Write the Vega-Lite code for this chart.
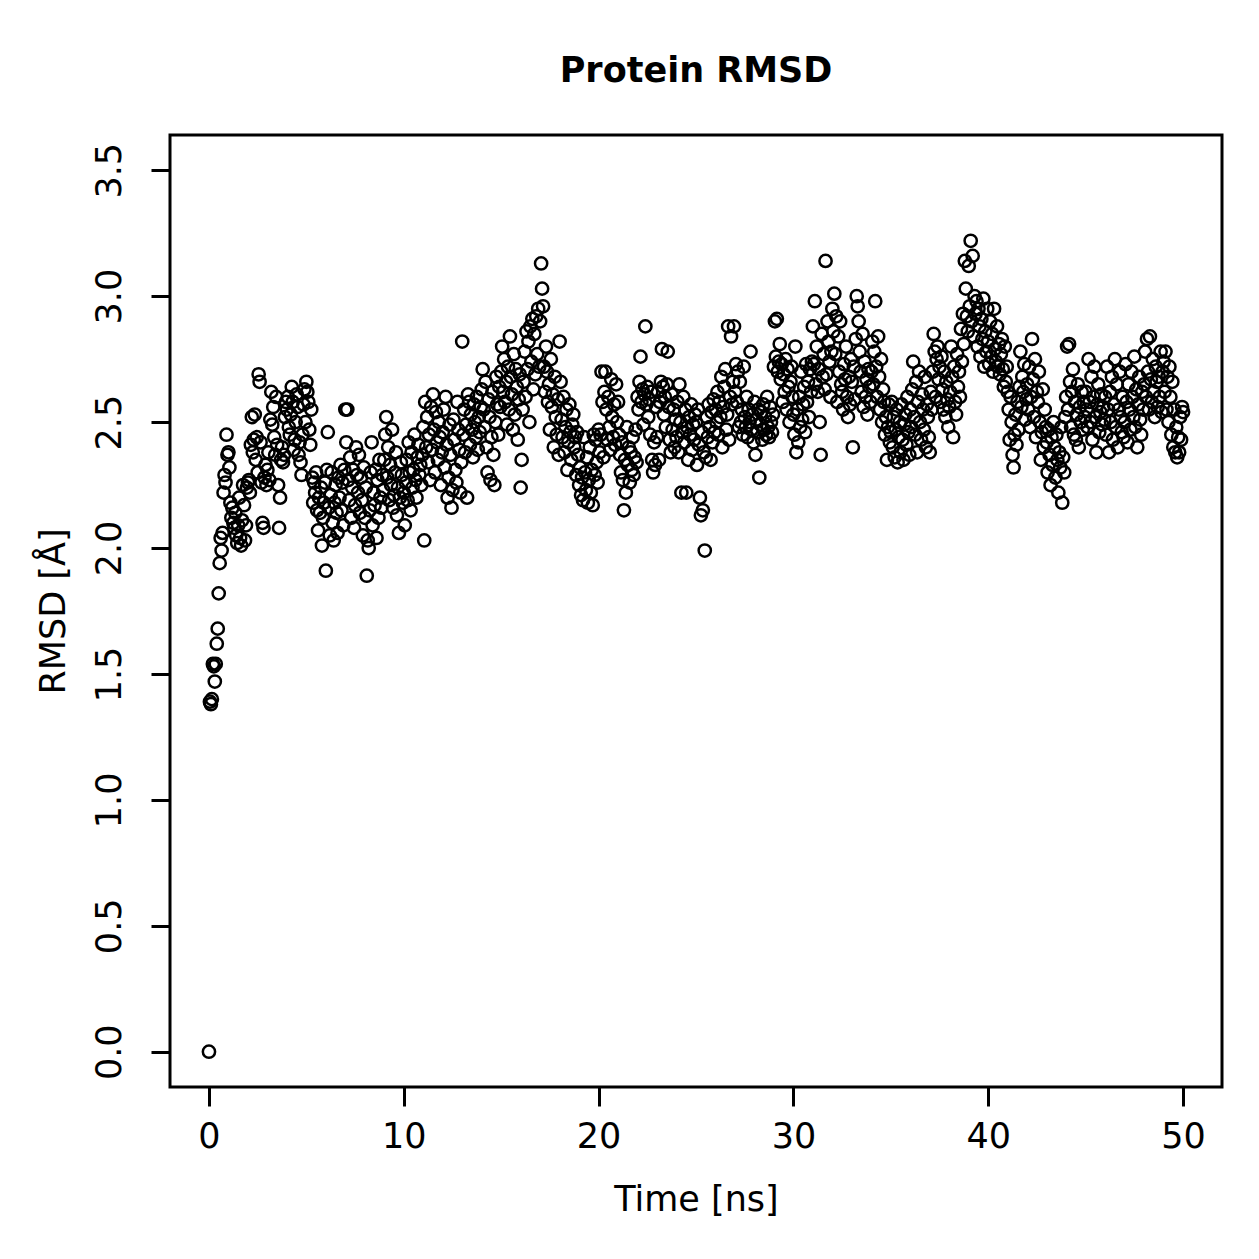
{
"$schema":"https://vega.github.io/schema/vega-lite/v6.json",
"autosize":{"type":"none"},
"padding":{"left":170,"top":135,"right":37,"bottom":172},
"width":1052,"height":952,
"background":"white",
"title":{"text":"Protein RMSD","font":"DejaVu Sans","fontSize":35,"fontWeight":"bold","color":"black","anchor":"middle","baseline":"alphabetic","offset":18},
"config":{"view":{"stroke":"black","strokeWidth":3},"axis":{"grid":false,"domain":false,"ticks":true,"tickColor":"black","tickWidth":3,"tickSize":19,"labelFont":"DejaVu Sans","labelFontSize":35,"labelColor":"black","titleFont":"DejaVu Sans","titleFontSize":35,"titleFontWeight":"normal","titleColor":"black","labelFlush":false,"labelOverlap":false}},
"data":{"values":[
{"t":0,"r":0},{"t":0.05,"r":1.39},{"t":0.1,"r":1.38},{"t":0.15,"r":1.4},{"t":0.2,"r":1.54},{"t":0.25,"r":1.53},{"t":0.3,"r":1.47},{"t":0.35,"r":1.54},{"t":0.4,"r":1.62},{"t":0.45,"r":1.68},{"t":0.5,"r":1.82},{"t":0.55,"r":1.94},{"t":0.6,"r":2.04},{"t":0.65,"r":1.99},{"t":0.7,"r":2.06},{"t":0.75,"r":2.22},{"t":0.8,"r":2.29},{"t":0.85,"r":2.26},{"t":0.9,"r":2.45},{"t":0.95,"r":2.37},
{"t":1,"r":2.38},{"t":1.05,"r":2.32},{"t":1.1,"r":2.18},{"t":1.15,"r":2.12},{"t":1.2,"r":2.16},{"t":1.25,"r":2.1},{"t":1.3,"r":2.08},{"t":1.35,"r":2.14},{"t":1.4,"r":2.05},{"t":1.45,"r":2.02},{"t":1.5,"r":2.09},{"t":1.55,"r":2.2},{"t":1.6,"r":2.04},{"t":1.65,"r":2.01},{"t":1.7,"r":2.11},{"t":1.75,"r":2.25},{"t":1.8,"r":2.17},{"t":1.85,"r":2.03},{"t":1.9,"r":2.09},{"t":1.95,"r":2.24},
{"t":2,"r":2.26},{"t":2.05,"r":2.27},{"t":2.1,"r":2.22},{"t":2.15,"r":2.41},{"t":2.2,"r":2.52},{"t":2.25,"r":2.38},{"t":2.3,"r":2.43},{"t":2.35,"r":2.53},{"t":2.4,"r":2.35},{"t":2.45,"r":2.44},{"t":2.5,"r":2.3},{"t":2.55,"r":2.69},{"t":2.6,"r":2.66},{"t":2.65,"r":2.42},{"t":2.7,"r":2.26},{"t":2.75,"r":2.1},{"t":2.8,"r":2.08},{"t":2.85,"r":2.28},{"t":2.9,"r":2.33},{"t":2.95,"r":2.25},
{"t":3,"r":2.31},{"t":3.05,"r":2.38},{"t":3.1,"r":2.27},{"t":3.15,"r":2.51},{"t":3.2,"r":2.62},{"t":3.25,"r":2.49},{"t":3.3,"r":2.56},{"t":3.35,"r":2.44},{"t":3.4,"r":2.37},{"t":3.45,"r":2.6},{"t":3.5,"r":2.41},{"t":3.55,"r":2.25},{"t":3.6,"r":2.08},{"t":3.65,"r":2.2},{"t":3.7,"r":2.35},{"t":3.75,"r":2.4},{"t":3.8,"r":2.34},{"t":3.85,"r":2.37},{"t":3.9,"r":2.52},{"t":3.95,"r":2.58},
{"t":4,"r":2.55},{"t":4.05,"r":2.6},{"t":4.1,"r":2.48},{"t":4.15,"r":2.45},{"t":4.2,"r":2.53},{"t":4.25,"r":2.64},{"t":4.3,"r":2.58},{"t":4.35,"r":2.39},{"t":4.4,"r":2.43},{"t":4.45,"r":2.5},{"t":4.5,"r":2.61},{"t":4.55,"r":2.56},{"t":4.6,"r":2.37},{"t":4.65,"r":2.42},{"t":4.7,"r":2.34},{"t":4.75,"r":2.29},{"t":4.8,"r":2.45},{"t":4.85,"r":2.57},{"t":4.9,"r":2.63},{"t":4.95,"r":2.5},
{"t":5,"r":2.66},{"t":5.05,"r":2.62},{"t":5.1,"r":2.58},{"t":5.15,"r":2.47},{"t":5.2,"r":2.41},{"t":5.25,"r":2.55},{"t":5.3,"r":2.28},{"t":5.35,"r":2.18},{"t":5.4,"r":2.26},{"t":5.45,"r":2.22},{"t":5.5,"r":2.3},{"t":5.55,"r":2.15},{"t":5.6,"r":2.07},{"t":5.65,"r":2.2},{"t":5.7,"r":2.14},{"t":5.75,"r":2.24},{"t":5.8,"r":2.01},{"t":5.85,"r":2.12},{"t":5.9,"r":2.18},{"t":5.95,"r":2.26},
{"t":6,"r":1.91},{"t":6.05,"r":2.31},{"t":6.1,"r":2.46},{"t":6.15,"r":2.16},{"t":6.2,"r":2.05},{"t":6.25,"r":2.21},{"t":6.3,"r":2.3},{"t":6.35,"r":2.1},{"t":6.4,"r":2.03},{"t":6.45,"r":2.18},{"t":6.5,"r":2.25},{"t":6.55,"r":2.14},{"t":6.6,"r":2.06},{"t":6.65,"r":2.28},{"t":6.7,"r":2.2},{"t":6.75,"r":2.33},{"t":6.8,"r":2.15},{"t":6.85,"r":2.26},{"t":6.9,"r":2.09},{"t":6.95,"r":2.31},
{"t":7,"r":2.55},{"t":7.05,"r":2.42},{"t":7.1,"r":2.55},{"t":7.15,"r":2.27},{"t":7.2,"r":2.19},{"t":7.25,"r":2.36},{"t":7.3,"r":2.12},{"t":7.35,"r":2.24},{"t":7.4,"r":2.31},{"t":7.45,"r":2.08},{"t":7.5,"r":2.17},{"t":7.55,"r":2.4},{"t":7.6,"r":2.29},{"t":7.65,"r":2.22},{"t":7.7,"r":2.37},{"t":7.75,"r":2.14},{"t":7.8,"r":2.28},{"t":7.85,"r":2.19},{"t":7.9,"r":2.05},{"t":7.95,"r":2.32},
{"t":8,"r":2.12},{"t":8.05,"r":2.24},{"t":8.1,"r":1.89},{"t":8.15,"r":2.03},{"t":8.2,"r":2.0},{"t":8.25,"r":2.15},{"t":8.3,"r":2.3},{"t":8.35,"r":2.42},{"t":8.4,"r":2.09},{"t":8.45,"r":2.22},{"t":8.5,"r":2.17},{"t":8.55,"r":2.31},{"t":8.6,"r":2.04},{"t":8.65,"r":2.27},{"t":8.7,"r":2.12},{"t":8.75,"r":2.35},{"t":8.8,"r":2.2},{"t":8.85,"r":2.16},{"t":8.9,"r":2.29},{"t":8.95,"r":2.23},
{"t":9,"r":2.35},{"t":9.05,"r":2.45},{"t":9.1,"r":2.52},{"t":9.15,"r":2.28},{"t":9.2,"r":2.4},{"t":9.25,"r":2.19},{"t":9.3,"r":2.33},{"t":9.35,"r":2.25},{"t":9.4,"r":2.47},{"t":9.45,"r":2.16},{"t":9.5,"r":2.21},{"t":9.55,"r":2.3},{"t":9.6,"r":2.38},{"t":9.65,"r":2.13},{"t":9.7,"r":2.24},{"t":9.75,"r":2.06},{"t":9.8,"r":2.2},{"t":9.85,"r":2.34},{"t":9.9,"r":2.29},{"t":9.95,"r":2.18},
{"t":10,"r":2.22},{"t":10.05,"r":2.09},{"t":10.1,"r":2.26},{"t":10.15,"r":2.35},{"t":10.2,"r":2.19},{"t":10.25,"r":2.42},{"t":10.3,"r":2.3},{"t":10.35,"r":2.15},{"t":10.4,"r":2.38},{"t":10.45,"r":2.24},{"t":10.5,"r":2.31},{"t":10.55,"r":2.45},{"t":10.6,"r":2.27},{"t":10.65,"r":2.2},{"t":10.7,"r":2.36},{"t":10.75,"r":2.41},{"t":10.8,"r":2.29},{"t":10.85,"r":2.33},{"t":10.9,"r":2.25},{"t":10.95,"r":2.37},
{"t":11,"r":2.48},{"t":11.05,"r":2.03},{"t":11.1,"r":2.58},{"t":11.15,"r":2.4},{"t":11.2,"r":2.52},{"t":11.25,"r":2.34},{"t":11.3,"r":2.45},{"t":11.35,"r":2.27},{"t":11.4,"r":2.56},{"t":11.45,"r":2.39},{"t":11.5,"r":2.61},{"t":11.55,"r":2.47},{"t":11.6,"r":2.3},{"t":11.65,"r":2.54},{"t":11.7,"r":2.42},{"t":11.75,"r":2.35},{"t":11.8,"r":2.5},{"t":11.85,"r":2.44},{"t":11.9,"r":2.25},{"t":11.95,"r":2.38},
{"t":12,"r":2.46},{"t":12.05,"r":2.55},{"t":12.1,"r":2.32},{"t":12.15,"r":2.6},{"t":12.2,"r":2.41},{"t":12.25,"r":2.2},{"t":12.3,"r":2.28},{"t":12.35,"r":2.49},{"t":12.4,"r":2.37},{"t":12.45,"r":2.16},{"t":12.5,"r":2.23},{"t":12.55,"r":2.51},{"t":12.6,"r":2.43},{"t":12.65,"r":2.31},{"t":12.7,"r":2.26},{"t":12.75,"r":2.58},{"t":12.8,"r":2.47},{"t":12.85,"r":2.39},{"t":12.9,"r":2.22},{"t":12.95,"r":2.34},
{"t":13,"r":2.82},{"t":13.05,"r":2.45},{"t":13.1,"r":2.55},{"t":13.15,"r":2.38},{"t":13.2,"r":2.49},{"t":13.25,"r":2.2},{"t":13.3,"r":2.61},{"t":13.35,"r":2.58},{"t":13.4,"r":2.41},{"t":13.45,"r":2.53},{"t":13.5,"r":2.47},{"t":13.55,"r":2.36},{"t":13.6,"r":2.57},{"t":13.65,"r":2.5},{"t":13.7,"r":2.44},{"t":13.75,"r":2.6},{"t":13.8,"r":2.39},{"t":13.85,"r":2.52},{"t":13.9,"r":2.46},{"t":13.95,"r":2.56},
{"t":14,"r":2.63},{"t":14.05,"r":2.71},{"t":14.1,"r":2.55},{"t":14.15,"r":2.48},{"t":14.2,"r":2.66},{"t":14.25,"r":2.4},{"t":14.3,"r":2.3},{"t":14.35,"r":2.59},{"t":14.4,"r":2.52},{"t":14.45,"r":2.27},{"t":14.5,"r":2.44},{"t":14.55,"r":2.62},{"t":14.6,"r":2.37},{"t":14.65,"r":2.25},{"t":14.7,"r":2.5},{"t":14.75,"r":2.68},{"t":14.8,"r":2.57},{"t":14.85,"r":2.45},{"t":14.9,"r":2.64},{"t":14.95,"r":2.56},
{"t":15,"r":2.7},{"t":15.05,"r":2.8},{"t":15.1,"r":2.62},{"t":15.15,"r":2.75},{"t":15.2,"r":2.58},{"t":15.25,"r":2.66},{"t":15.3,"r":2.49},{"t":15.35,"r":2.72},{"t":15.4,"r":2.55},{"t":15.45,"r":2.84},{"t":15.5,"r":2.68},{"t":15.55,"r":2.61},{"t":15.6,"r":2.47},{"t":15.65,"r":2.77},{"t":15.7,"r":2.53},{"t":15.75,"r":2.71},{"t":15.8,"r":2.64},{"t":15.85,"r":2.43},{"t":15.9,"r":2.59},{"t":15.95,"r":2.69},
{"t":16,"r":2.24},{"t":16.05,"r":2.35},{"t":16.1,"r":2.55},{"t":16.15,"r":2.66},{"t":16.2,"r":2.78},{"t":16.25,"r":2.6},{"t":16.3,"r":2.86},{"t":16.35,"r":2.71},{"t":16.4,"r":2.82},{"t":16.45,"r":2.5},{"t":16.5,"r":2.88},{"t":16.55,"r":2.74},{"t":16.6,"r":2.91},{"t":16.65,"r":2.63},{"t":16.7,"r":2.85},{"t":16.75,"r":2.69},{"t":16.8,"r":2.92},{"t":16.85,"r":2.77},{"t":16.9,"r":2.95},{"t":16.95,"r":2.72},
{"t":17,"r":2.9},{"t":17.05,"r":3.13},{"t":17.1,"r":3.03},{"t":17.15,"r":2.96},{"t":17.2,"r":2.72},{"t":17.25,"r":2.62},{"t":17.3,"r":2.8},{"t":17.35,"r":2.7},{"t":17.4,"r":2.58},{"t":17.45,"r":2.65},{"t":17.5,"r":2.47},{"t":17.55,"r":2.75},{"t":17.6,"r":2.56},{"t":17.65,"r":2.61},{"t":17.7,"r":2.4},{"t":17.75,"r":2.68},{"t":17.8,"r":2.52},{"t":17.85,"r":2.45},{"t":17.9,"r":2.59},{"t":17.95,"r":2.37},
{"t":18,"r":2.82},{"t":18.05,"r":2.66},{"t":18.1,"r":2.51},{"t":18.15,"r":2.44},{"t":18.2,"r":2.6},{"t":18.25,"r":2.38},{"t":18.3,"r":2.48},{"t":18.35,"r":2.55},{"t":18.4,"r":2.31},{"t":18.45,"r":2.42},{"t":18.5,"r":2.57},{"t":18.55,"r":2.46},{"t":18.6,"r":2.35},{"t":18.65,"r":2.49},{"t":18.7,"r":2.53},{"t":18.75,"r":2.4},{"t":18.8,"r":2.44},{"t":18.85,"r":2.29},{"t":18.9,"r":2.46},{"t":18.95,"r":2.37},
{"t":19,"r":2.25},{"t":19.05,"r":2.32},{"t":19.1,"r":2.21},{"t":19.15,"r":2.28},{"t":19.2,"r":2.19},{"t":19.25,"r":2.44},{"t":19.3,"r":2.3},{"t":19.35,"r":2.23},{"t":19.4,"r":2.36},{"t":19.45,"r":2.18},{"t":19.5,"r":2.27},{"t":19.55,"r":2.4},{"t":19.6,"r":2.22},{"t":19.65,"r":2.31},{"t":19.7,"r":2.17},{"t":19.75,"r":2.45},{"t":19.8,"r":2.29},{"t":19.85,"r":2.43},{"t":19.9,"r":2.34},{"t":19.95,"r":2.26},
{"t":20,"r":2.47},{"t":20.05,"r":2.38},{"t":20.1,"r":2.45},{"t":20.15,"r":2.7},{"t":20.2,"r":2.58},{"t":20.25,"r":2.36},{"t":20.3,"r":2.62},{"t":20.35,"r":2.7},{"t":20.4,"r":2.55},{"t":20.45,"r":2.43},{"t":20.5,"r":2.6},{"t":20.55,"r":2.48},{"t":20.6,"r":2.39},{"t":20.65,"r":2.67},{"t":20.7,"r":2.52},{"t":20.75,"r":2.44},{"t":20.8,"r":2.57},{"t":20.85,"r":2.41},{"t":20.9,"r":2.65},{"t":20.95,"r":2.5},
{"t":21,"r":2.58},{"t":21.05,"r":2.45},{"t":21.1,"r":2.37},{"t":21.15,"r":2.3},{"t":21.2,"r":2.42},{"t":21.25,"r":2.27},{"t":21.3,"r":2.15},{"t":21.35,"r":2.35},{"t":21.4,"r":2.22},{"t":21.45,"r":2.48},{"t":21.5,"r":2.33},{"t":21.55,"r":2.4},{"t":21.6,"r":2.26},{"t":21.65,"r":2.38},{"t":21.7,"r":2.31},{"t":21.75,"r":2.44},{"t":21.8,"r":2.29},{"t":21.85,"r":2.36},{"t":21.9,"r":2.47},{"t":21.95,"r":2.34},
{"t":22,"r":2.6},{"t":22.05,"r":2.55},{"t":22.1,"r":2.66},{"t":22.15,"r":2.76},{"t":22.2,"r":2.58},{"t":22.25,"r":2.63},{"t":22.3,"r":2.49},{"t":22.35,"r":2.61},{"t":22.4,"r":2.88},{"t":22.45,"r":2.57},{"t":22.5,"r":2.64},{"t":22.55,"r":2.52},{"t":22.6,"r":2.59},{"t":22.65,"r":2.45},{"t":22.7,"r":2.62},{"t":22.75,"r":2.35},{"t":22.8,"r":2.3},{"t":22.85,"r":2.42},{"t":22.9,"r":2.33},{"t":22.95,"r":2.56},
{"t":23,"r":2.44},{"t":23.05,"r":2.62},{"t":23.1,"r":2.35},{"t":23.15,"r":2.58},{"t":23.2,"r":2.66},{"t":23.25,"r":2.79},{"t":23.3,"r":2.64},{"t":23.35,"r":2.53},{"t":23.4,"r":2.6},{"t":23.45,"r":2.48},{"t":23.5,"r":2.65},{"t":23.55,"r":2.78},{"t":23.6,"r":2.56},{"t":23.65,"r":2.43},{"t":23.7,"r":2.38},{"t":23.75,"r":2.61},{"t":23.8,"r":2.47},{"t":23.85,"r":2.55},{"t":23.9,"r":2.4},{"t":23.95,"r":2.51},
{"t":24,"r":2.44},{"t":24.05,"r":2.58},{"t":24.1,"r":2.38},{"t":24.15,"r":2.65},{"t":24.2,"r":2.5},{"t":24.25,"r":2.22},{"t":24.3,"r":2.46},{"t":24.35,"r":2.6},{"t":24.4,"r":2.42},{"t":24.45,"r":2.55},{"t":24.5,"r":2.22},{"t":24.55,"r":2.48},{"t":24.6,"r":2.35},{"t":24.65,"r":2.52},{"t":24.7,"r":2.45},{"t":24.75,"r":2.57},{"t":24.8,"r":2.39},{"t":24.85,"r":2.49},{"t":24.9,"r":2.43},{"t":24.95,"r":2.53},
{"t":25,"r":2.5},{"t":25.05,"r":2.33},{"t":25.1,"r":2.55},{"t":25.15,"r":2.41},{"t":25.2,"r":2.2},{"t":25.25,"r":2.13},{"t":25.3,"r":2.46},{"t":25.35,"r":2.15},{"t":25.4,"r":2.38},{"t":25.45,"r":1.99},{"t":25.5,"r":2.36},{"t":25.55,"r":2.52},{"t":25.6,"r":2.44},{"t":25.65,"r":2.57},{"t":25.7,"r":2.48},{"t":25.75,"r":2.35},{"t":25.8,"r":2.54},{"t":25.85,"r":2.42},{"t":25.9,"r":2.59},{"t":25.95,"r":2.46},
{"t":26,"r":2.55},{"t":26.05,"r":2.5},{"t":26.1,"r":2.62},{"t":26.15,"r":2.45},{"t":26.2,"r":2.58},{"t":26.25,"r":2.52},{"t":26.3,"r":2.68},{"t":26.35,"r":2.4},{"t":26.4,"r":2.56},{"t":26.45,"r":2.64},{"t":26.5,"r":2.71},{"t":26.55,"r":2.47},{"t":26.6,"r":2.53},{"t":26.65,"r":2.88},{"t":26.7,"r":2.43},{"t":26.75,"r":2.6},{"t":26.8,"r":2.84},{"t":26.85,"r":2.57},{"t":26.9,"r":2.66},{"t":26.95,"r":2.88},
{"t":27,"r":2.62},{"t":27.05,"r":2.73},{"t":27.1,"r":2.58},{"t":27.15,"r":2.7},{"t":27.2,"r":2.48},{"t":27.25,"r":2.66},{"t":27.3,"r":2.5},{"t":27.35,"r":2.55},{"t":27.4,"r":2.45},{"t":27.45,"r":2.72},{"t":27.5,"r":2.52},{"t":27.55,"r":2.48},{"t":27.6,"r":2.6},{"t":27.65,"r":2.44},{"t":27.7,"r":2.55},{"t":27.75,"r":2.5},{"t":27.8,"r":2.78},{"t":27.85,"r":2.47},{"t":27.9,"r":2.53},{"t":27.95,"r":2.42},
{"t":28,"r":2.58},{"t":28.05,"r":2.37},{"t":28.1,"r":2.51},{"t":28.15,"r":2.46},{"t":28.2,"r":2.55},{"t":28.25,"r":2.28},{"t":28.3,"r":2.49},{"t":28.35,"r":2.54},{"t":28.4,"r":2.43},{"t":28.45,"r":2.57},{"t":28.5,"r":2.47},{"t":28.55,"r":2.52},{"t":28.6,"r":2.45},{"t":28.65,"r":2.6},{"t":28.7,"r":2.48},{"t":28.75,"r":2.44},{"t":28.8,"r":2.56},{"t":28.85,"r":2.5},{"t":28.9,"r":2.46},{"t":28.95,"r":2.53},
{"t":29,"r":2.72},{"t":29.05,"r":2.9},{"t":29.1,"r":2.76},{"t":29.15,"r":2.91},{"t":29.2,"r":2.7},{"t":29.25,"r":2.74},{"t":29.3,"r":2.81},{"t":29.35,"r":2.67},{"t":29.4,"r":2.73},{"t":29.45,"r":2.58},{"t":29.5,"r":2.69},{"t":29.55,"r":2.62},{"t":29.6,"r":2.75},{"t":29.65,"r":2.55},{"t":29.7,"r":2.71},{"t":29.75,"r":2.64},{"t":29.8,"r":2.5},{"t":29.85,"r":2.66},{"t":29.9,"r":2.72},{"t":29.95,"r":2.6},
{"t":30,"r":2.53},{"t":30.05,"r":2.45},{"t":30.1,"r":2.8},{"t":30.15,"r":2.38},{"t":30.2,"r":2.55},{"t":30.25,"r":2.42},{"t":30.3,"r":2.6},{"t":30.35,"r":2.48},{"t":30.4,"r":2.7},{"t":30.45,"r":2.51},{"t":30.5,"r":2.57},{"t":30.55,"r":2.64},{"t":30.6,"r":2.46},{"t":30.65,"r":2.73},{"t":30.7,"r":2.58},{"t":30.75,"r":2.66},{"t":30.8,"r":2.52},{"t":30.85,"r":2.71},{"t":30.9,"r":2.62},{"t":30.95,"r":2.74},
{"t":31,"r":2.88},{"t":31.05,"r":2.73},{"t":31.1,"r":2.98},{"t":31.15,"r":2.65},{"t":31.2,"r":2.8},{"t":31.25,"r":2.62},{"t":31.3,"r":2.71},{"t":31.35,"r":2.5},{"t":31.4,"r":2.37},{"t":31.45,"r":2.85},{"t":31.5,"r":2.68},{"t":31.55,"r":2.77},{"t":31.6,"r":2.63},{"t":31.65,"r":3.14},{"t":31.7,"r":2.69},{"t":31.75,"r":2.9},{"t":31.8,"r":2.82},{"t":31.85,"r":2.74},{"t":31.9,"r":2.6},{"t":31.95,"r":2.78},
{"t":32,"r":2.95},{"t":32.05,"r":2.86},{"t":32.1,"r":3.01},{"t":32.15,"r":2.77},{"t":32.2,"r":2.92},{"t":32.25,"r":2.58},{"t":32.3,"r":2.84},{"t":32.35,"r":2.7},{"t":32.4,"r":2.9},{"t":32.45,"r":2.65},{"t":32.5,"r":2.62},{"t":32.55,"r":2.55},{"t":32.6,"r":2.73},{"t":32.65,"r":2.67},{"t":32.7,"r":2.8},{"t":32.75,"r":2.6},{"t":32.8,"r":2.52},{"t":32.85,"r":2.68},{"t":32.9,"r":2.57},{"t":32.95,"r":2.75},
{"t":33,"r":2.66},{"t":33.05,"r":2.4},{"t":33.1,"r":2.72},{"t":33.15,"r":2.59},{"t":33.2,"r":2.83},{"t":33.25,"r":3.0},{"t":33.3,"r":2.96},{"t":33.35,"r":2.9},{"t":33.4,"r":2.78},{"t":33.45,"r":2.7},{"t":33.5,"r":2.62},{"t":33.55,"r":2.85},{"t":33.6,"r":2.56},{"t":33.65,"r":2.74},{"t":33.7,"r":2.6},{"t":33.75,"r":2.67},{"t":33.8,"r":2.53},{"t":33.85,"r":2.71},{"t":33.9,"r":2.64},{"t":33.95,"r":2.58},
{"t":34,"r":2.7},{"t":34.05,"r":2.82},{"t":34.1,"r":2.65},{"t":34.15,"r":2.78},{"t":34.2,"r":2.98},{"t":34.25,"r":2.72},{"t":34.3,"r":2.6},{"t":34.35,"r":2.84},{"t":34.4,"r":2.68},{"t":34.45,"r":2.55},{"t":34.5,"r":2.75},{"t":34.55,"r":2.5},{"t":34.6,"r":2.63},{"t":34.65,"r":2.58},{"t":34.7,"r":2.45},{"t":34.75,"r":2.52},{"t":34.8,"r":2.35},{"t":34.85,"r":2.48},{"t":34.9,"r":2.57},{"t":34.95,"r":2.42},
{"t":35,"r":2.46},{"t":35.05,"r":2.58},{"t":35.1,"r":2.4},{"t":35.15,"r":2.52},{"t":35.2,"r":2.36},{"t":35.25,"r":2.47},{"t":35.3,"r":2.55},{"t":35.35,"r":2.34},{"t":35.4,"r":2.44},{"t":35.45,"r":2.5},{"t":35.5,"r":2.38},{"t":35.55,"r":2.57},{"t":35.6,"r":2.43},{"t":35.65,"r":2.35},{"t":35.7,"r":2.49},{"t":35.75,"r":2.53},{"t":35.8,"r":2.41},{"t":35.85,"r":2.6},{"t":35.9,"r":2.46},{"t":35.95,"r":2.37},
{"t":36,"r":2.55},{"t":36.05,"r":2.48},{"t":36.1,"r":2.63},{"t":36.15,"r":2.74},{"t":36.2,"r":2.52},{"t":36.25,"r":2.45},{"t":36.3,"r":2.66},{"t":36.35,"r":2.38},{"t":36.4,"r":2.58},{"t":36.45,"r":2.7},{"t":36.5,"r":2.5},{"t":36.55,"r":2.43},{"t":36.6,"r":2.61},{"t":36.65,"r":2.55},{"t":36.7,"r":2.47},{"t":36.75,"r":2.68},{"t":36.8,"r":2.4},{"t":36.85,"r":2.57},{"t":36.9,"r":2.52},{"t":36.95,"r":2.44},
{"t":37,"r":2.38},{"t":37.05,"r":2.62},{"t":37.1,"r":2.55},{"t":37.15,"r":2.7},{"t":37.2,"r":2.85},{"t":37.25,"r":2.78},{"t":37.3,"r":2.6},{"t":37.35,"r":2.75},{"t":37.4,"r":2.8},{"t":37.45,"r":2.67},{"t":37.5,"r":2.72},{"t":37.55,"r":2.58},{"t":37.6,"r":2.76},{"t":37.65,"r":2.63},{"t":37.7,"r":2.55},{"t":37.75,"r":2.7},{"t":37.8,"r":2.52},{"t":37.85,"r":2.66},{"t":37.9,"r":2.59},{"t":37.95,"r":2.48},
{"t":38,"r":2.56},{"t":38.05,"r":2.62},{"t":38.1,"r":2.8},{"t":38.15,"r":2.68},{"t":38.2,"r":2.44},{"t":38.25,"r":2.72},{"t":38.3,"r":2.58},{"t":38.35,"r":2.53},{"t":38.4,"r":2.77},{"t":38.45,"r":2.64},{"t":38.5,"r":2.7},{"t":38.55,"r":2.6},{"t":38.6,"r":2.87},{"t":38.65,"r":2.74},{"t":38.7,"r":2.93},{"t":38.75,"r":2.81},{"t":38.8,"r":3.14},{"t":38.85,"r":3.03},{"t":38.9,"r":2.92},{"t":38.95,"r":2.86},
{"t":39,"r":3.12},{"t":39.05,"r":2.96},{"t":39.1,"r":3.22},{"t":39.15,"r":2.9},{"t":39.2,"r":3.16},{"t":39.25,"r":2.84},{"t":39.3,"r":3.0},{"t":39.35,"r":2.93},{"t":39.4,"r":2.98},{"t":39.45,"r":2.8},{"t":39.5,"r":2.95},{"t":39.55,"r":2.88},{"t":39.6,"r":2.76},{"t":39.65,"r":2.91},{"t":39.7,"r":2.83},{"t":39.75,"r":2.99},{"t":39.8,"r":2.72},{"t":39.85,"r":2.86},{"t":39.9,"r":2.78},{"t":39.95,"r":2.95},
{"t":40,"r":2.82},{"t":40.05,"r":2.73},{"t":40.1,"r":2.9},{"t":40.15,"r":2.76},{"t":40.2,"r":2.85},{"t":40.25,"r":2.7},{"t":40.3,"r":2.95},{"t":40.35,"r":2.79},{"t":40.4,"r":2.74},{"t":40.45,"r":2.88},{"t":40.5,"r":2.72},{"t":40.55,"r":2.81},{"t":40.6,"r":2.69},{"t":40.65,"r":2.77},{"t":40.7,"r":2.83},{"t":40.75,"r":2.71},{"t":40.8,"r":2.64},{"t":40.85,"r":2.8},{"t":40.9,"r":2.66},{"t":40.95,"r":2.72},
{"t":41,"r":2.62},{"t":41.05,"r":2.55},{"t":41.1,"r":2.43},{"t":41.15,"r":2.6},{"t":41.2,"r":2.5},{"t":41.25,"r":2.37},{"t":41.3,"r":2.32},{"t":41.35,"r":2.45},{"t":41.4,"r":2.53},{"t":41.45,"r":2.41},{"t":41.5,"r":2.58},{"t":41.55,"r":2.47},{"t":41.6,"r":2.64},{"t":41.65,"r":2.78},{"t":41.7,"r":2.56},{"t":41.75,"r":2.68},{"t":41.8,"r":2.62},{"t":41.85,"r":2.73},{"t":41.9,"r":2.51},{"t":41.95,"r":2.59},
{"t":42,"r":2.65},{"t":42.05,"r":2.55},{"t":42.1,"r":2.72},{"t":42.15,"r":2.48},{"t":42.2,"r":2.6},{"t":42.25,"r":2.83},{"t":42.3,"r":2.67},{"t":42.35,"r":2.52},{"t":42.4,"r":2.75},{"t":42.45,"r":2.44},{"t":42.5,"r":2.62},{"t":42.55,"r":2.58},{"t":42.6,"r":2.7},{"t":42.65,"r":2.5},{"t":42.7,"r":2.35},{"t":42.75,"r":2.46},{"t":42.8,"r":2.63},{"t":42.85,"r":2.4},{"t":42.9,"r":2.55},{"t":42.95,"r":2.48},
{"t":43,"r":2.42},{"t":43.05,"r":2.3},{"t":43.1,"r":2.47},{"t":43.15,"r":2.37},{"t":43.2,"r":2.25},{"t":43.25,"r":2.44},{"t":43.3,"r":2.33},{"t":43.35,"r":2.5},{"t":43.4,"r":2.4},{"t":43.45,"r":2.28},{"t":43.5,"r":2.45},{"t":43.55,"r":2.35},{"t":43.6,"r":2.22},{"t":43.65,"r":2.38},{"t":43.7,"r":2.32},{"t":43.75,"r":2.48},{"t":43.8,"r":2.18},{"t":43.85,"r":2.36},{"t":43.9,"r":2.3},{"t":43.95,"r":2.52},
{"t":44,"r":2.6},{"t":44.05,"r":2.8},{"t":44.1,"r":2.55},{"t":44.15,"r":2.81},{"t":44.2,"r":2.66},{"t":44.25,"r":2.48},{"t":44.3,"r":2.62},{"t":44.35,"r":2.71},{"t":44.4,"r":2.45},{"t":44.45,"r":2.58},{"t":44.5,"r":2.43},{"t":44.55,"r":2.53},{"t":44.6,"r":2.65},{"t":44.65,"r":2.4},{"t":44.7,"r":2.56},{"t":44.75,"r":2.5},{"t":44.8,"r":2.62},{"t":44.85,"r":2.47},{"t":44.9,"r":2.58},{"t":44.95,"r":2.52},
{"t":45,"r":2.62},{"t":45.05,"r":2.55},{"t":45.1,"r":2.48},{"t":45.15,"r":2.75},{"t":45.2,"r":2.58},{"t":45.25,"r":2.5},{"t":45.3,"r":2.68},{"t":45.35,"r":2.43},{"t":45.4,"r":2.6},{"t":45.45,"r":2.72},{"t":45.5,"r":2.52},{"t":45.55,"r":2.38},{"t":45.6,"r":2.57},{"t":45.65,"r":2.65},{"t":45.7,"r":2.46},{"t":45.75,"r":2.54},{"t":45.8,"r":2.61},{"t":45.85,"r":2.49},{"t":45.9,"r":2.56},{"t":45.95,"r":2.51},
{"t":46,"r":2.6},{"t":46.05,"r":2.45},{"t":46.1,"r":2.72},{"t":46.15,"r":2.55},{"t":46.2,"r":2.38},{"t":46.25,"r":2.62},{"t":46.3,"r":2.5},{"t":46.35,"r":2.68},{"t":46.4,"r":2.43},{"t":46.45,"r":2.57},{"t":46.5,"r":2.75},{"t":46.55,"r":2.48},{"t":46.6,"r":2.65},{"t":46.65,"r":2.4},{"t":46.7,"r":2.55},{"t":46.75,"r":2.7},{"t":46.8,"r":2.52},{"t":46.85,"r":2.46},{"t":46.9,"r":2.6},{"t":46.95,"r":2.44},
{"t":47,"r":2.5},{"t":47.05,"r":2.73},{"t":47.1,"r":2.58},{"t":47.15,"r":2.42},{"t":47.2,"r":2.65},{"t":47.25,"r":2.55},{"t":47.3,"r":2.47},{"t":47.35,"r":2.7},{"t":47.4,"r":2.6},{"t":47.45,"r":2.52},{"t":47.5,"r":2.76},{"t":47.55,"r":2.48},{"t":47.6,"r":2.63},{"t":47.65,"r":2.4},{"t":47.7,"r":2.57},{"t":47.75,"r":2.68},{"t":47.8,"r":2.51},{"t":47.85,"r":2.45},{"t":47.9,"r":2.62},{"t":47.95,"r":2.55},
{"t":48,"r":2.65},{"t":48.05,"r":2.78},{"t":48.1,"r":2.6},{"t":48.15,"r":2.83},{"t":48.2,"r":2.7},{"t":48.25,"r":2.55},{"t":48.3,"r":2.84},{"t":48.35,"r":2.67},{"t":48.4,"r":2.58},{"t":48.45,"r":2.75},{"t":48.5,"r":2.62},{"t":48.55,"r":2.52},{"t":48.6,"r":2.72},{"t":48.65,"r":2.66},{"t":48.7,"r":2.56},{"t":48.75,"r":2.68},{"t":48.8,"r":2.6},{"t":48.85,"r":2.78},{"t":48.9,"r":2.54},{"t":48.95,"r":2.7},
{"t":49,"r":2.74},{"t":49.05,"r":2.62},{"t":49.1,"r":2.78},{"t":49.15,"r":2.55},{"t":49.2,"r":2.68},{"t":49.25,"r":2.5},{"t":49.3,"r":2.72},{"t":49.35,"r":2.6},{"t":49.4,"r":2.45},{"t":49.45,"r":2.66},{"t":49.5,"r":2.4},{"t":49.55,"r":2.55},{"t":49.6,"r":2.38},{"t":49.65,"r":2.48},{"t":49.7,"r":2.36},{"t":49.75,"r":2.44},{"t":49.8,"r":2.38},{"t":49.85,"r":2.52},{"t":49.9,"r":2.43},{"t":49.95,"r":2.56},
{"t":50,"r":2.54}
]},
"mark":{"type":"point","shape":"circle","filled":false,"color":"black","size":150,"strokeWidth":2.5,"opacity":1},
"encoding":{
"x":{"field":"t","type":"quantitative","scale":{"domain":[-2,52],"nice":false,"zero":false},"axis":{"title":"Time [ns]","values":[0,10,20,30,40,50],"labelPadding":13,"titleBaseline":"alphabetic","titleX":526,"titleY":123,"titleAlign":"center"}},
"y":{"field":"r","type":"quantitative","scale":{"domain":[-0.14,3.64],"nice":false,"zero":false},"axis":{"title":"RMSD [Å]","values":[0,0.5,1,1.5,2,2.5,3,3.5],"format":".1f","labelAngle":270,"labelAlign":"center","labelBaseline":"alphabetic","labelPadding":31,"titleAngle":270,"titleBaseline":"alphabetic","titleX":-106,"titleY":476,"titleAlign":"center"}}
}
}
